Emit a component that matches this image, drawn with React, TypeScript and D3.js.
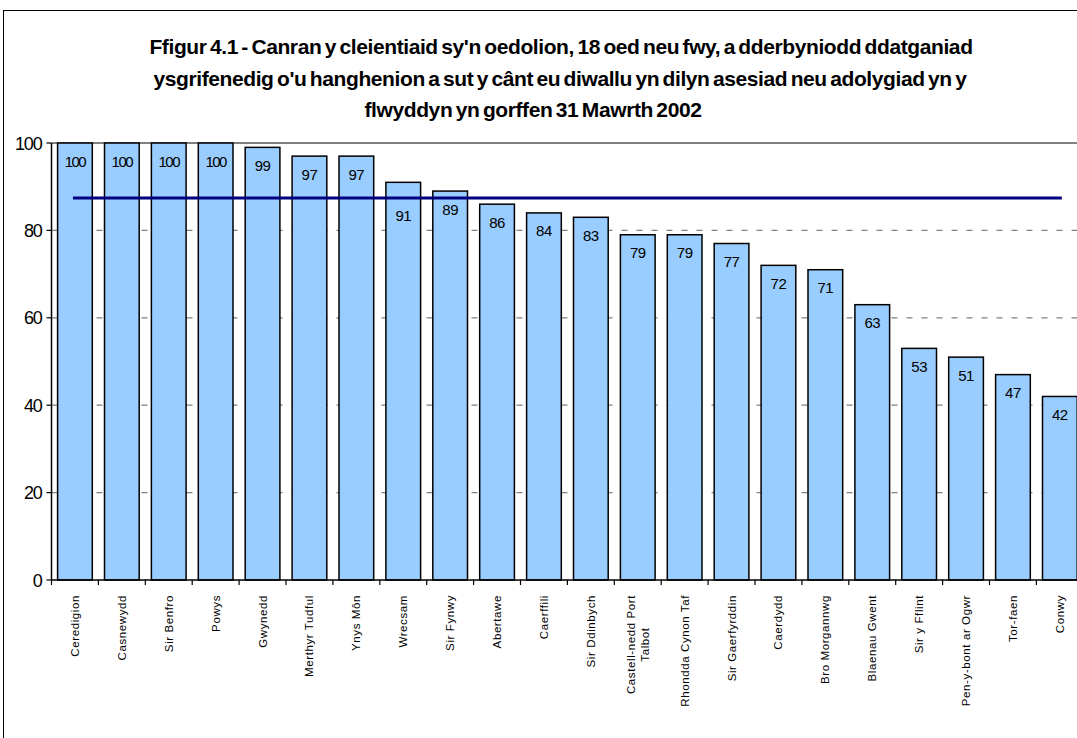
import React, { useEffect, useRef } from "react";
import * as d3 from "d3";

const categories: string[] = [
  "Ceredigion", "Casnewydd", "Sir Benfro", "Powys", "Gwynedd", "Merthyr Tudful",
  "Ynys Môn", "Wrecsam", "Sir Fynwy", "Abertawe", "Caerffili", "Sir Ddinbych",
  "Castell-nedd Port Talbot", "Rhondda Cynon Taf", "Sir Gaerfyrddin", "Caerdydd",
  "Bro Morgannwg", "Blaenau Gwent", "Sir y Fflint", "Pen-y-bont ar Ogwr", "Tor-faen", "Conwy",
];
const values: number[] = [100, 100, 100, 100, 99, 97, 97, 91, 89, 86, 84, 83, 79, 79, 77, 72, 71, 63, 53, 51, 47, 42];
const walesAverage = 87.4;
const yTicks: number[] = [0, 20, 40, 60, 80, 100];
const titleLines: string[] = [
  "Ffigur 4.1 - Canran y cleientiaid sy'n oedolion, 18 oed neu fwy, a dderbyniodd ddatganiad",
  "ysgrifenedig o'u hanghenion a sut y cânt eu diwallu yn dilyn asesiad neu adolygiad yn y",
  "flwyddyn yn gorffen 31 Mawrth 2002",
];
const labelWraps: Record<string, string[]> = {
  "Castell-nedd Port Talbot": ["Castell-nedd Port", "Talbot"],
};

export default function App() {
  const ref = useRef<SVGSVGElement>(null);
  useEffect(() => {
    const svg = d3.select(ref.current);
    svg.selectAll("*").remove();
    const left = 51.5, top = 143, bottom = 580;
    const step = 46.9;
    const right = left + step * categories.length;

    svg.append("rect").attr("x", 3.5).attr("y", 10.5).attr("width", 1200).attr("height", 800)
      .attr("fill", "white").attr("stroke", "black").attr("stroke-width", 1);

    const x = d3.scaleBand<string>().domain(categories).range([left, right]).paddingInner(0.26).paddingOuter(0.13);
    const xc = (c: string) => (x(c) as number) + x.bandwidth() / 2;
    const y = d3.scaleLinear().domain([0, 100]).range([bottom, top]);

    // title
    const tx = [561, 560, 533];
    svg.append("g").selectAll("text").data(titleLines).join("text")
      .attr("x", (_d, i) => tx[i]).attr("y", (_d, i) => 54 + i * 31.5)
      .attr("text-anchor", "middle")
      .attr("font-family", "Liberation Sans, Arial, sans-serif")
      .attr("font-weight", "bold").attr("font-size", 21).attr("letter-spacing", -0.4)
      .attr("word-spacing", -2)
      .attr("fill", "black").text(d => d);

    // gridlines
    svg.append("g").selectAll("line").data(yTicks.filter(t => t > 0)).join("line")
      .attr("x1", left).attr("x2", right).attr("y1", d => y(d)).attr("y2", d => y(d))
      .attr("stroke", "#808080").attr("stroke-width", d => d === 100 ? 2 : 1.3)
      .attr("stroke-dasharray", d => d === 100 ? null : "6,9");

    // bars
    svg.append("g").selectAll("rect").data(values).join("rect")
      .attr("x", (_d, i) => x(categories[i]) as number)
      .attr("y", d => y(d))
      .attr("width", x.bandwidth())
      .attr("height", d => bottom - y(d))
      .attr("fill", "#99CCFF").attr("stroke", "black").attr("stroke-width", 1.5);

    // average line
    const avgY = y(walesAverage);
    svg.append("line")
      .attr("x1", xc(categories[0]) - 2).attr("x2", xc(categories[categories.length - 1]) + 2)
      .attr("y1", avgY).attr("y2", avgY)
      .attr("stroke", "#000080").attr("stroke-width", 3);

    // value labels (pushed below the average line when they would overlap it)
    const labelCenter = (d: number) => {
      const c = y(d) + 18;
      if (Math.abs(c - avgY) < 10) return Math.max(c, avgY + 17);
      return c;
    };
    svg.append("g").selectAll("text").data(values).join("text")
      .attr("x", (_d, i) => xc(categories[i]))
      .attr("y", d => labelCenter(d) + 5.5)
      .attr("text-anchor", "middle")
      .attr("font-family", "Liberation Sans, Arial, sans-serif").attr("font-size", 15)
      .attr("letter-spacing", d => d >= 100 ? -1.5 : -0.5)
      .attr("fill", "black").text(d => String(d));

    // y axis
    svg.append("line").attr("x1", left).attr("x2", left).attr("y1", top).attr("y2", bottom)
      .attr("stroke", "black").attr("stroke-width", 1.5);
    const yg = svg.append("g");
    yg.selectAll("line").data(yTicks).join("line")
      .attr("x1", left - 5).attr("x2", left).attr("y1", d => y(d)).attr("y2", d => y(d))
      .attr("stroke", "black").attr("stroke-width", 1.2);
    yg.selectAll("text").data(yTicks).join("text")
      .attr("x", left - 10).attr("y", d => y(d) + 6.5).attr("text-anchor", "end")
      .attr("font-family", "Liberation Sans, Arial, sans-serif").attr("font-size", 18)
      .attr("letter-spacing", -1.2).attr("fill", "black").text(d => String(d));

    // x axis
    svg.append("line").attr("x1", left).attr("x2", right).attr("y1", bottom).attr("y2", bottom)
      .attr("stroke", "black").attr("stroke-width", 1.5);
    const bounds = d3.range(categories.length + 1).map(i => left + i * step);
    svg.append("g").selectAll("line").data(bounds).join("line")
      .attr("x1", d => d).attr("x2", d => d).attr("y1", bottom).attr("y2", bottom + 5)
      .attr("stroke", "black").attr("stroke-width", 1.2);

    const xl = svg.append("g");
    categories.forEach((c) => {
      const lines = labelWraps[c] || [c];
      const cx = xc(c);
      const n = lines.length;
      const g = xl.append("g").attr("transform", `translate(${cx},${bottom + 15}) rotate(-90)`);
      const texts = lines.map((ln, j) => g.append("text")
        .attr("x", 0).attr("y", 4 + (j - (n - 1) / 2) * 14)
        .attr("text-anchor", "end")
        .attr("font-family", "Liberation Sans, Arial, sans-serif").attr("font-size", 11.5)
        .attr("letter-spacing", 0.6).attr("fill", "black").text(ln));
      if (n > 1) {
        const w0 = (texts[0].node() as SVGTextElement).getComputedTextLength();
        texts.slice(1).forEach(t => t.attr("text-anchor", "middle").attr("x", -w0 / 2));
      }
    });
  }, []);
  return (
    <svg ref={ref} width={1077} height={738}
      style={{ position: "absolute", left: 0, top: 0, background: "white" }} />
  );
}
